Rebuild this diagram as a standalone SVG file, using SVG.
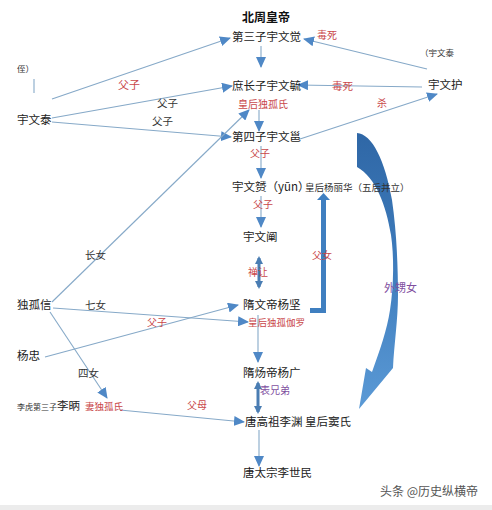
<svg xmlns="http://www.w3.org/2000/svg" width="492" height="510" viewBox="0 0 492 510">
<style>
text{font-family:"Noto Sans CJK SC","Noto Sans",sans-serif;}
.m{font-size:11.5px;fill:#222;}
.b{font-size:12px;font-weight:bold;fill:#111;}
.r{font-size:10px;fill:#c9474a;}
.k{font-size:10.5px;fill:#333;}
.p{font-size:10px;fill:#7f4f9f;}
.s{font-size:8.5px;fill:#333;}
.ln{stroke:#86a9c8;stroke-width:1.1;fill:none;}
.ar{stroke:#86a9c8;stroke-width:1.1;fill:none;marker-end:url(#ah);}
.dbl{stroke:#4a7db3;stroke-width:3;fill:none;marker-end:url(#ah2);marker-start:url(#ah2s);}
</style>
<defs>
<marker id="ah" markerUnits="userSpaceOnUse" markerWidth="11" markerHeight="10" refX="10" refY="5" orient="auto">
<path d="M0,0 L11,5 L0,10 z" fill="#4f88c6"/>
</marker>
<marker id="ah2" markerUnits="userSpaceOnUse" markerWidth="8" markerHeight="8" refX="6" refY="4" orient="auto">
<path d="M0,0 L8,4 L0,8 z" fill="#4a7db3"/>
</marker>
<marker id="ah2s" markerUnits="userSpaceOnUse" markerWidth="8" markerHeight="8" refX="2" refY="4" orient="auto">
<path d="M8,0 L0,4 L8,8 z" fill="#4a7db3"/>
</marker>
<linearGradient id="cg" x1="0" y1="0" x2="0" y2="1">
<stop offset="0" stop-color="#2f67a6"/>
<stop offset="0.5" stop-color="#3f7dbd"/>
<stop offset="1" stop-color="#5b9ad6"/>
</linearGradient>
</defs>

<g id="connectors">
<line class="ar" x1="52" y1="99" x2="230" y2="38"/>
<line class="ar" x1="427" y1="69" x2="304" y2="39"/>
<line class="ar" x1="422" y1="87" x2="298" y2="85"/>
<line class="ar" x1="300" y1="139" x2="437" y2="94"/>
<line class="ar" x1="52" y1="118" x2="232" y2="86"/>
<line class="ar" x1="52" y1="122" x2="231" y2="137"/>
<line class="ar" x1="52" y1="302" x2="249" y2="110"/>
<line class="ar" x1="53" y1="308" x2="248" y2="322"/>
<line class="ar" x1="45" y1="357" x2="238" y2="305"/>
<line class="ar" x1="50" y1="312" x2="107" y2="398"/>
<line class="ar" x1="120" y1="410" x2="244" y2="422"/>
<line class="ar" x1="261" y1="46" x2="261" y2="67"/>
<line class="ar" x1="259" y1="110" x2="259" y2="131"/>
<line class="ar" x1="261" y1="146" x2="261" y2="178"/>
<line class="ar" x1="261" y1="196" x2="261" y2="227"/>
<line class="ar" x1="258" y1="315" x2="258" y2="362"/>
<line class="ar" x1="259" y1="430" x2="259" y2="466"/>
<line class="ln" x1="34" y1="79" x2="34" y2="93"/>
<line class="dbl" x1="259" y1="258" x2="259" y2="287"/>
<line class="dbl" x1="258" y1="383" x2="258" y2="412"/>
<path d="M310,308 H321 V200 H326 V313 H310 Z" fill="#3f7fc0"/>
<path d="M317,200 L323.5,193 L330,200 Z" fill="#3f7fc0"/>
<path d="M357,133 C372,134 385,160 392,200 C397,235 398,270 398,295 C398,320 394,345 393,368 L359,409 L366,368 L372,372 C380,350 387,330 390,310 C394,285 394,255 391,235 C386,205 376,178 357,167 Z" fill="url(#cg)"/>
</g>

<g id="n-title"><text class="b" x="242" y="22">北周皇帝</text></g>
<g id="n-jue"><text class="m" x="232" y="41">第三子宇文觉</text></g>
<g id="l-dusi1"><text class="r" x="317" y="39">毒死</text></g>
<g id="l-note1"><text class="s" x="420" y="56">（宇文泰</text></g>
<g id="l-note2"><text class="s" x="17" y="72">侄）</text></g>
<g id="l-fz1"><text class="r" x="118" y="89" style="font-size:11px">父子</text></g>
<g id="n-yu"><text class="m" x="232" y="90">庶长子宇文毓</text></g>
<g id="l-dusi2"><text class="r" x="332" y="90" style="font-size:10.5px">毒死</text></g>
<g id="n-hu"><text class="m" x="428" y="89">宇文护</text></g>
<g id="l-hh1"><text class="r" x="238" y="108">皇后独孤氏</text></g>
<g id="l-fz2"><text class="k" x="157" y="107">父子</text></g>
<g id="l-sha"><text class="r" x="377" y="107">杀</text></g>
<g id="n-tai"><text class="m" x="17" y="124">宇文泰</text></g>
<g id="l-fz3"><text class="k" x="152" y="125">父子</text></g>
<g id="n-yong"><text class="m" x="232" y="141">第四子宇文邕</text></g>
<g id="l-fz4"><text class="r" x="250" y="157">父子</text></g>
<g id="n-yun"><text class="m" x="232" y="191">宇文赟（yūn）</text><text class="k" x="305" y="191" style="font-size:9.5px">皇后杨丽华（五后并立）</text></g>
<g id="l-fz5"><text class="r" x="253" y="208">父子</text></g>
<g id="n-chan"><text class="m" x="243" y="241">宇文阐</text></g>
<g id="l-changnv"><text class="k" x="85" y="259">长女</text></g>
<g id="l-fn"><text class="r" x="312" y="259">父女</text></g>
<g id="l-shan"><text class="r" x="248" y="276">禅让</text></g>
<g id="l-wsn"><text class="p" x="384" y="292" style="font-size:11px">外甥女</text></g>
<g id="n-dgx"><text class="m" x="17" y="309">独孤信</text></g>
<g id="l-qinv"><text class="k" x="85" y="309">七女</text></g>
<g id="n-jian"><text class="m" x="243" y="309">隋文帝杨坚</text></g>
<g id="l-fz6"><text class="r" x="147" y="326">父子</text></g>
<g id="l-hh2"><text class="r" x="248" y="326" style="font-size:9.5px">皇后独孤伽罗</text></g>
<g id="n-yz"><text class="m" x="17" y="360">杨忠</text></g>
<g id="l-sinv"><text class="k" x="78" y="377">四女</text></g>
<g id="n-guang"><text class="m" x="243" y="377">隋炀帝杨广</text></g>
<g id="l-bxd"><text class="p" x="260" y="394">表兄弟</text></g>
<g id="n-bing"><text class="s" x="17" y="410" style="font-size:8px">李虎第三子</text><text class="m" x="57" y="410">李昞</text></g>
<g id="l-qi"><text class="r" x="85" y="410" style="font-size:9.5px">妻独孤氏</text></g>
<g id="l-fm"><text class="r" x="187" y="409">父母</text></g>
<g id="n-yuan"><text class="m" x="245" y="426">唐高祖李渊 皇后窦氏</text></g>
<g id="n-smin"><text class="m" x="243" y="477">唐太宗李世民</text></g>
<g id="wm"><text x="380" y="496" style="font-size:12px;fill:#555">头条 @历史纵横帝</text></g>
<rect x="0" y="505" width="492" height="5" fill="#ececec"/>
</svg>
